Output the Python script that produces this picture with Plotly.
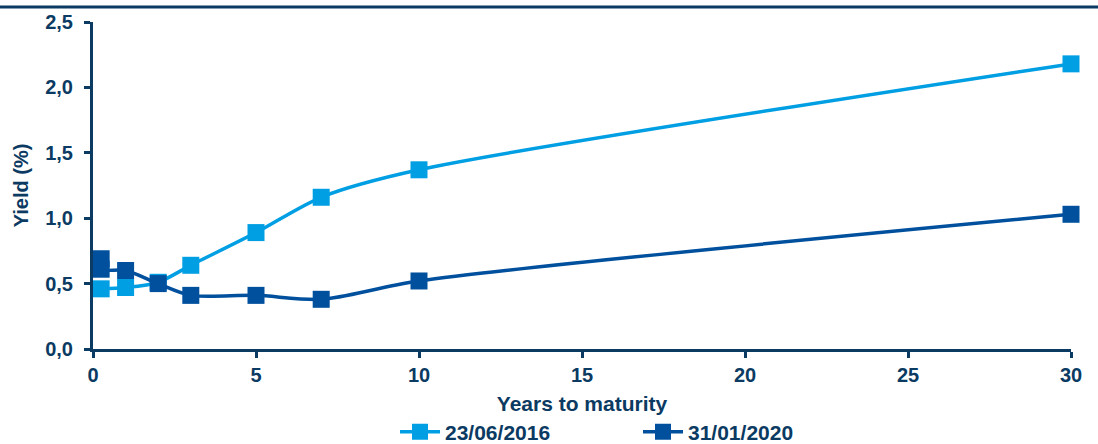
import plotly.graph_objects as go

maturity_2016 = [0.25, 1, 2, 3, 5, 7, 10, 30]
yield_2016 = [0.46, 0.47, 0.51, 0.64, 0.89, 1.16, 1.37, 2.18]

maturity_2020 = [0.25, 0.25, 1, 2, 3, 5, 7, 10, 30]
yield_2020 = [0.69, 0.61, 0.60, 0.50, 0.41, 0.41, 0.38, 0.52, 1.03]

x_ticks = [0, 5, 10, 15, 20, 25, 30]
y_ticks = [0.0, 0.5, 1.0, 1.5, 2.0, 2.5]
y_labels = ["0,0", "0,5", "1,0", "1,5", "2,0", "2,5"]

LIGHT = "#009fe3"
DARK = "#00509e"
NAVY = "#0b3a62"
FONT = "Liberation Sans"

fig = go.Figure()
fig.add_trace(go.Scatter(
    x=maturity_2016, y=yield_2016, name="23/06/2016", mode="lines+markers",
    line=dict(color=LIGHT, width=3.5, shape="spline", smoothing=0.8),
    marker=dict(symbol="square", size=17, color=LIGHT),
    cliponaxis=False,
))
fig.add_trace(go.Scatter(
    x=maturity_2020, y=yield_2020, name="31/01/2020", mode="lines+markers",
    line=dict(color=DARK, width=3.5, shape="spline", smoothing=0.8),
    marker=dict(symbol="square", size=17, color=DARK),
    cliponaxis=False,
))

L, R, T, B = 93, 27, 22, 95
W, H = 1098, 444
pw = W - L - R
ph = H - T - B
fig.add_shape(type="line", xref="paper", yref="paper",
              x0=-L / pw, x1=1 + R / pw, y0=1 + 15 / ph, y1=1 + 15 / ph,
              line=dict(color=NAVY, width=3))

bold = dict(family=FONT, color=NAVY, weight="bold")

fig.update_layout(
    width=W, height=H,
    margin=dict(l=L, r=R, t=T, b=B, autoexpand=False),
    paper_bgcolor="white", plot_bgcolor="white",
    font=dict(family=FONT, color=NAVY, size=20),
    showlegend=True,
    legend=dict(orientation="h", x=(395 - L) / pw, xanchor="left",
                y=-(432 - 349) / ph, yanchor="middle",
                font=dict(size=21, **bold),
                itemwidth=40, entrywidth=188, entrywidthmode="pixels"),
    xaxis=dict(
        range=[0, 30], tickvals=x_ticks, ticktext=[str(v) for v in x_ticks],
        showgrid=False, zeroline=False, showline=True, linecolor=NAVY, linewidth=3,
        ticks="outside", ticklen=6, tickwidth=3, tickcolor=NAVY,
        ticklabelstandoff=0,
        tickfont=dict(size=20, **bold),
        title=dict(text="Years to maturity", standoff=12,
                   font=dict(size=21, **bold)),
    ),
    yaxis=dict(
        range=[0, 2.5], tickvals=y_ticks, ticktext=y_labels,
        showgrid=False, zeroline=False, showline=True, linecolor=NAVY, linewidth=3,
        ticks="outside", ticklen=6, tickwidth=3, tickcolor=NAVY,
        ticklabelstandoff=7,
        tickfont=dict(size=20, **bold),
        title=dict(text="Yield (%)", standoff=12,
                   font=dict(size=20, **bold)),
    ),
)

fig.write_html("out.html")
